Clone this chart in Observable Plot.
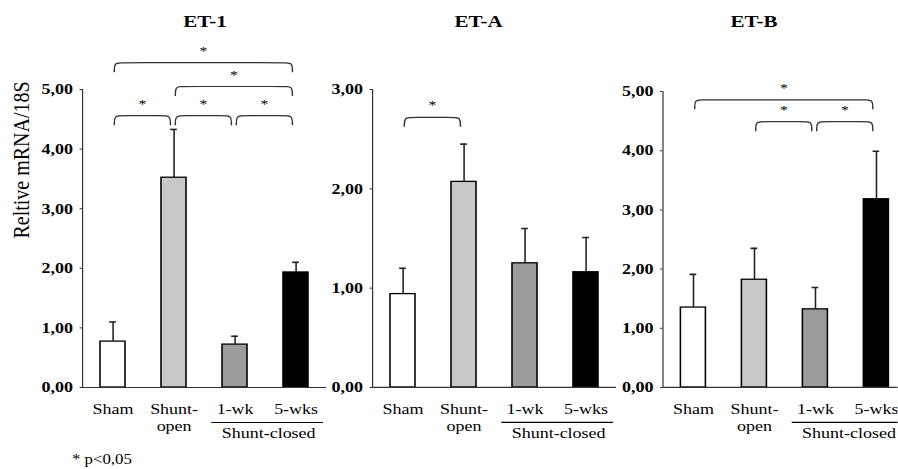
<!DOCTYPE html>
<html>
<head>
<meta charset="utf-8">
<script src="https://cdn.jsdelivr.net/npm/d3@7"></script>
<script src="https://cdn.jsdelivr.net/npm/@observablehq/plot@0.6"></script>
<style>
  body { margin: 0; background: #fff; }
  #wrap { position: relative; width: 748.33px; height: 469px; transform: scaleX(1.2); transform-origin: 0 0; font-family: "Liberation Serif", serif; color: #000; }
  .title { position: absolute; top: 13px; font-weight: bold; font-size: 17.5px; line-height: 1; transform: translateX(-50%); white-space: nowrap; }
  .note { position: absolute; left: 60px; top: 453px; font-size: 14px; line-height: 1; white-space: nowrap; }
  .panel { position: absolute; top: 0; }
  .panel svg { background: transparent; }
</style>
</head>
<body>
<div id="wrap"></div>
<script>
// ---- data ----
const groups = ["Sham", "Shunt-open", "1-wk", "5-wks"];
const groupLabels = ["Sham", "Shunt-\nopen", "1-wk", "5-wks"];
const groupFills = ["#ffffff", "#c8c8c8", "#9c9c9c", "#000000"];
const closedLabel = "Shunt-closed";
const closedGroups = [2, 3];

const titles = ["ET-1", "ET-A", "ET-B"];
const yLabel = "Reltive mRNA/18S";
const footnote = "* p<0,05";

const et1Mean = [0.77, 3.52, 0.72, 1.93];
const et1Err  = [0.33, 0.81, 0.14, 0.17];
const etaMean = [0.94, 2.07, 1.25, 1.16];
const etaErr  = [0.26, 0.38, 0.35, 0.35];
const etbMean = [1.35, 1.82, 1.32, 3.18];
const etbErr  = [0.56, 0.53, 0.37, 0.81];

const et1Ticks = [0, 1, 2, 3, 4, 5];
const etaTicks = [0, 1, 2, 3];
const etbTicks = [0, 1, 2, 3, 4, 5];

// significance brackets: [from group, to group, bracket height]
const et1Brackets = [[0, 1, 4.56], [1, 2, 4.56], [2, 3, 4.56], [1, 3, 5.05], [0, 3, 5.45]];
const etaBrackets = [[0, 1, 2.72]];
const etbBrackets = [[1, 2, 4.49], [2, 3, 4.49], [0, 3, 4.86]];

// ---- layout ----
const S = 1.2;           // horizontal stretch of the whole figure
const U = 61 / S;        // px per group slot
const H = 469, BASE = 387;
const panels = [
  {title: titles[0], mean: et1Mean, err: et1Err, ticks: et1Ticks, brackets: et1Brackets, left: 0, width: 275, ml: 68.33, top: 89, tx: 170.8, ylab: true},
  {title: titles[1], mean: etaMean, err: etaErr, ticks: etaTicks, brackets: etaBrackets, left: 275, width: 241.67, ml: 35, top: 89, tx: 398.8},
  {title: titles[2], mean: etbMean, err: etbErr, ticks: etbTicks, brackets: etbBrackets, left: 516.67, width: 231.67, ml: 35, top: 91, tx: 628.3}
];

const wrap = document.getElementById("wrap");
const fmt = d => d.toFixed(2).replace(".", ",");

for (const p of panels) {
  const max = d3.max(p.ticks);
  const data = groups.map((g, i) => ({i, g, label: groupLabels[i], v: p.mean[i], e: p.err[i], fill: groupFills[i]}));
  const pxPerUnit = (BASE - p.top) / max;
  const hook = 9 / pxPerUnit;
  const r = 0.12;
  const br = p.brackets.map(([a, b, yv], k) => ({k, x1: a + 0.02, x2: b - 0.06, y: yv}));
  const brPts = br.flatMap(({k, x1, x2, y}) =>
    [[x1, y - hook], [x1, y], [x1 + r, y], [x2 - r, y], [x2, y], [x2, y - hook]].map(([x, yy]) => ({k, x, y: yy})));

  const marks = [
    Plot.rectY(data, {x1: d => d.i - 0.205, x2: d => d.i + 0.205, y1: 0, y2: "v", fill: "fill", stroke: "#000", strokeWidth: 1.3}),
    Plot.ruleX(data, {x: "i", y1: "v", y2: d => d.v + d.e, stroke: "#222", strokeWidth: 1.3}),
    Plot.ruleY(data, {y: d => d.v + d.e, x1: d => d.i - 0.055, x2: d => d.i + 0.055, stroke: "#222", strokeWidth: 1.6}),
    Plot.ruleX([-0.5], {y1: 0, y2: max, stroke: "#333", strokeWidth: 1}),
    Plot.ruleY([0], {x1: -0.5, x2: 3.5, stroke: "#333", strokeWidth: 1.2}),
    Plot.axisY({ticks: p.ticks, tickFormat: fmt, tickSize: 2, tickPadding: 6, fontSize: 15, fontWeight: "bold", label: null, stroke: "#333"}),
    Plot.text(data, {x: "i", y: 0, text: "label", lineAnchor: "top", dy: 15, lineHeight: 1.12, fontSize: 15, fill: "#000"}),
    Plot.ruleY([0], {x1: closedGroups[0] - 0.38, x2: closedGroups[1] + 0.45, dy: 35, stroke: "#000", strokeWidth: 1.2}),
    Plot.text([closedLabel], {x: (closedGroups[0] + closedGroups[1]) / 2 + 0.05, y: 0, text: d => d, lineAnchor: "top", dy: 40, fontSize: 15, fill: "#000"}),
    Plot.line(brPts, {x: "x", y: "y", z: "k", curve: "basis", stroke: "#333", strokeWidth: 1.2}),
    Plot.text(br, {x: d => (d.x1 + d.x2) / 2, y: "y", text: () => "*", dy: -12, fontSize: 13, fill: "#000"})
  ];
  if (p.ylab) {
    marks.push(Plot.text([yLabel], {frameAnchor: "left", text: d => d, rotate: -90, dx: -51.2, fontSize: 20, fill: "#000"}));
  }

  const chart = Plot.plot({
    width: p.width, height: H,
    marginLeft: p.ml, marginRight: 0, marginTop: p.top, marginBottom: H - BASE,
    x: {domain: [-0.5, 3.5], range: [p.ml, p.ml + 4 * U], axis: null},
    y: {domain: [0, max], axis: null},
    color: {type: "identity"},
    style: {fontFamily: "Liberation Serif, serif", fontSize: "15px", color: "#000", background: "transparent"},
    marks
  });
  const div = document.createElement("div");
  div.className = "panel";
  div.style.left = p.left + "px";
  div.appendChild(chart);
  wrap.appendChild(div);

  const t = document.createElement("div");
  t.className = "title";
  t.style.left = p.tx + "px";
  t.textContent = p.title;
  wrap.appendChild(t);
}
const note = document.createElement("div");
note.className = "note";
note.textContent = footnote;
wrap.appendChild(note);
</script>
</body>
</html>
